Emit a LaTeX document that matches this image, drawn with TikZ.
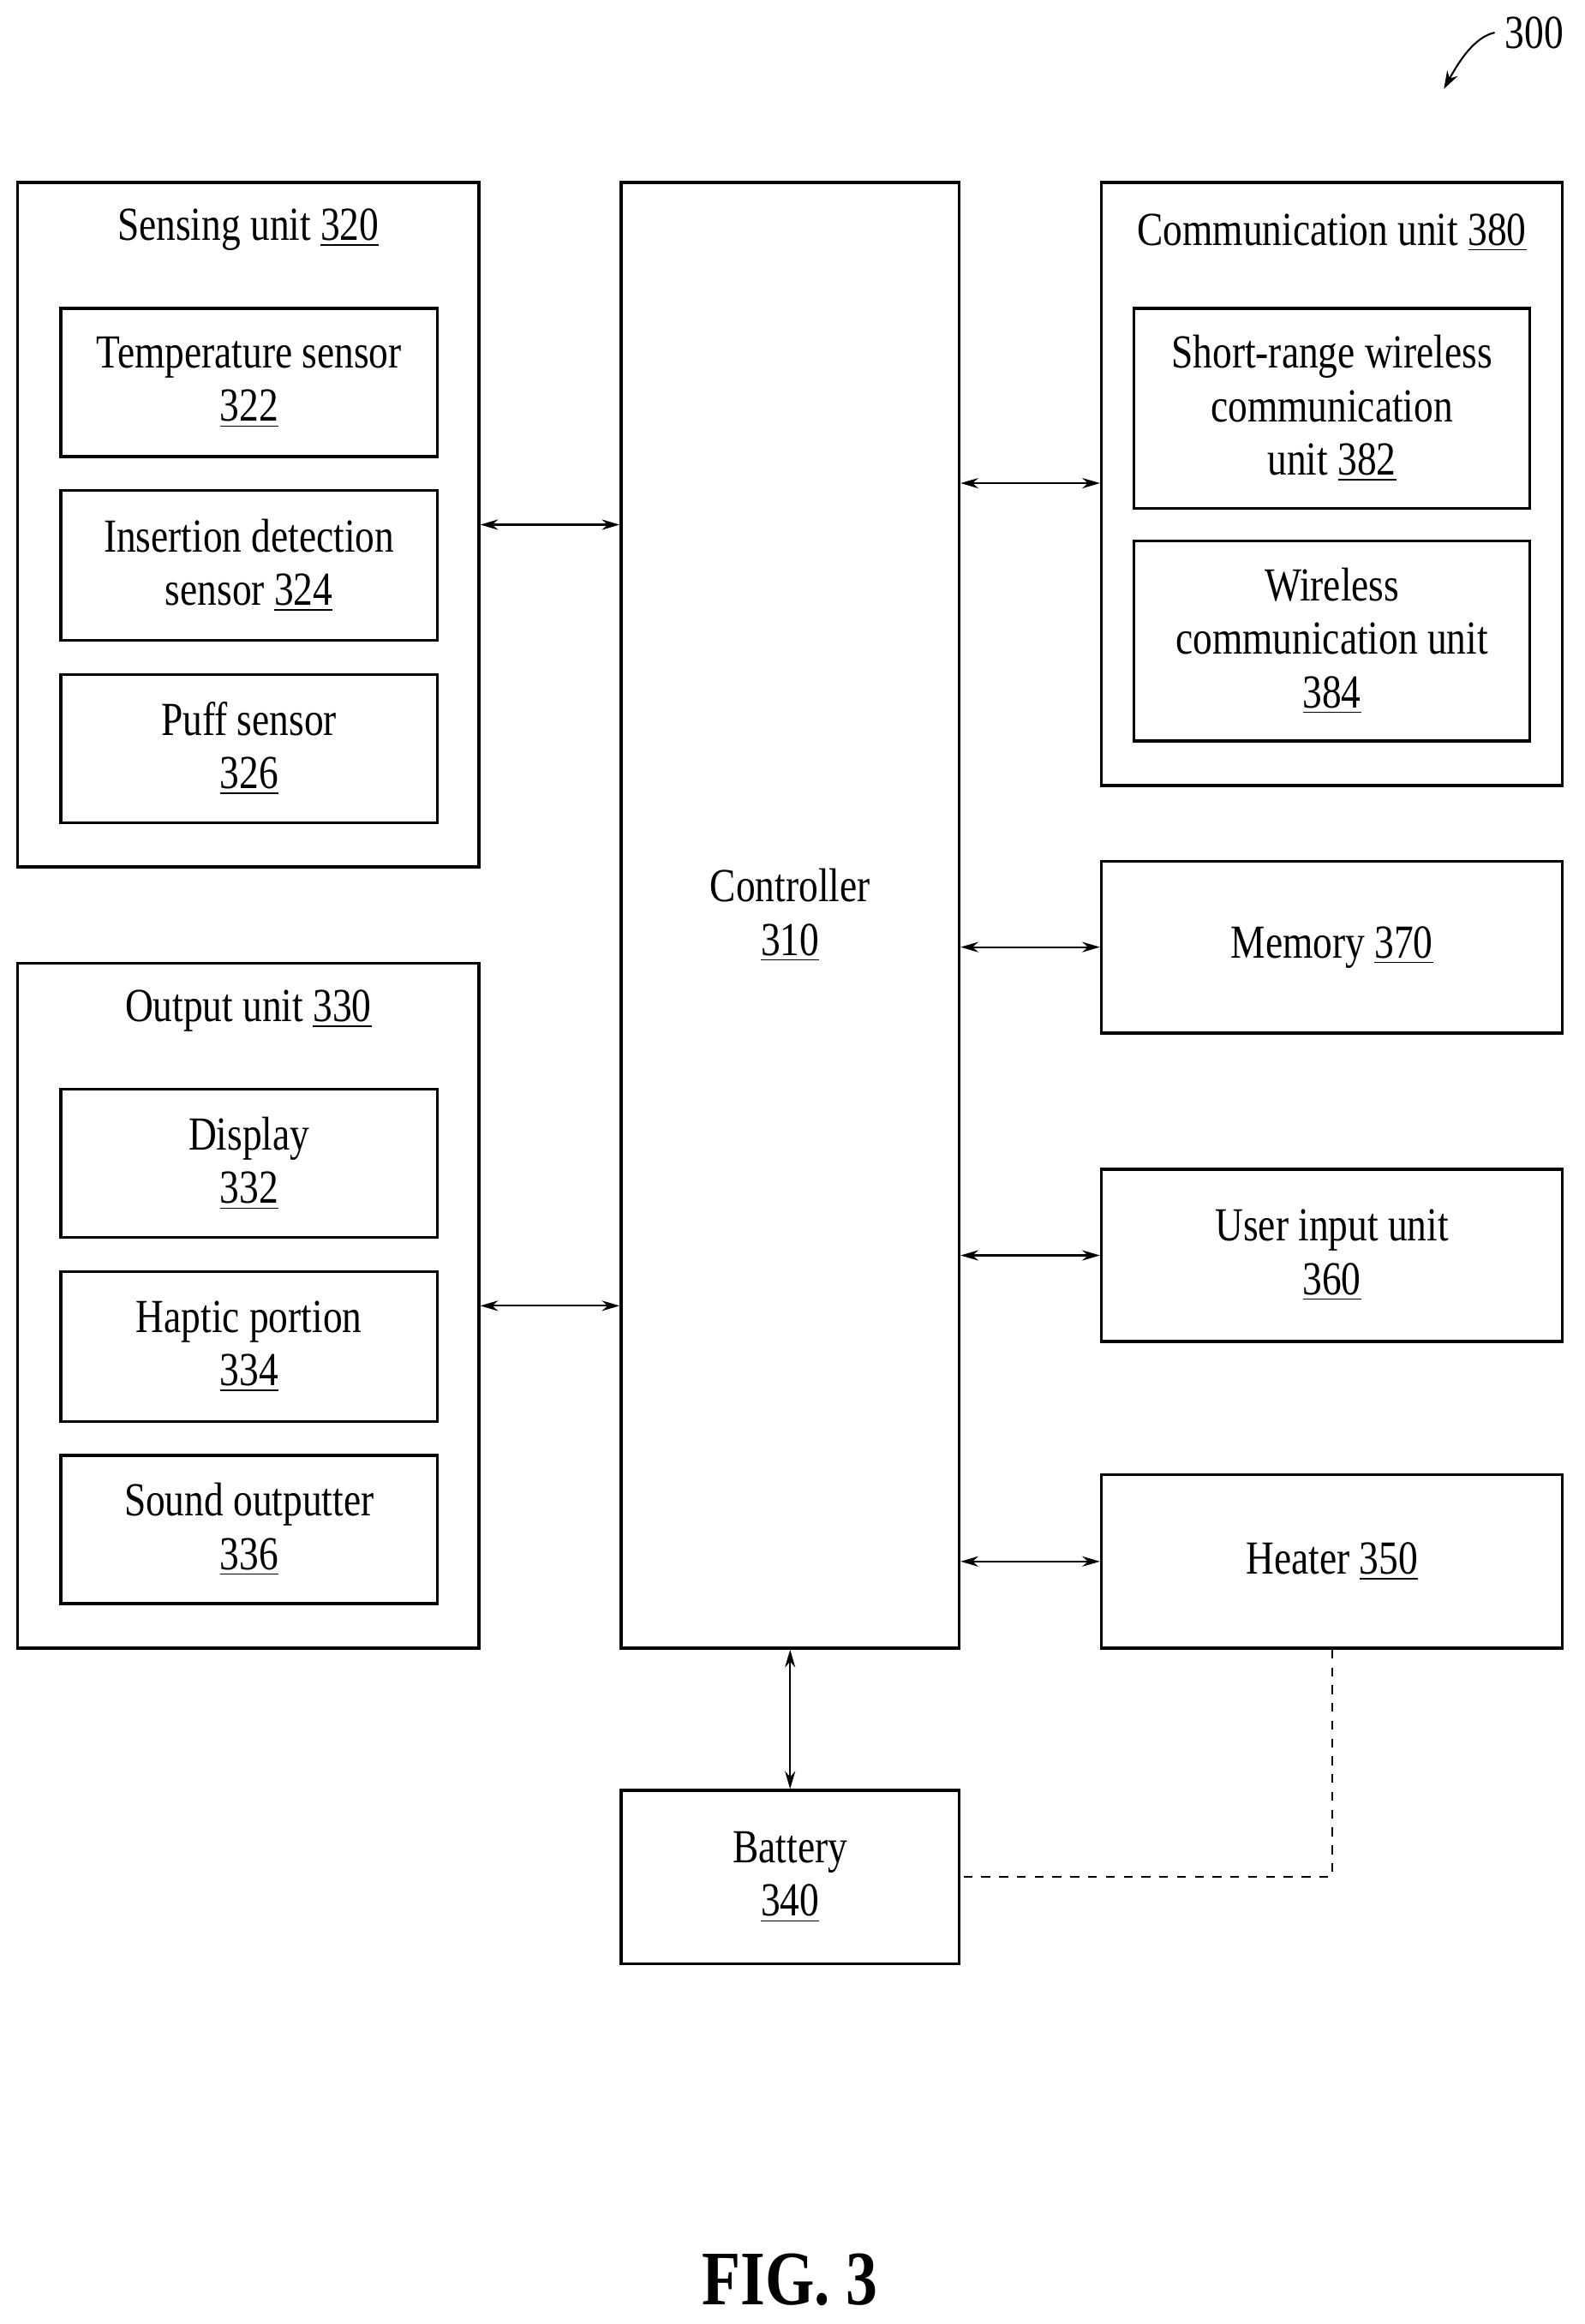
\documentclass[tikz,border=0pt]{standalone}
\usepackage{fontspec}
\setmainfont[FakeStretch=0.82]{Liberation Serif}
\usetikzlibrary{positioning,arrows.meta}
\newcommand{\refno}[1]{\underline{#1}}

\begin{document}
\begin{tikzpicture}[
    x=0.5pt, y=-0.5pt,
    font=\fontsize{16}{18}\selectfont,
    box/.style={rectangle, draw, line width=1pt, align=center, inner sep=0pt},
    arrow/.style={{Stealth[length=6pt,width=3.5pt]}-{Stealth[length=6pt,width=3.5pt]}, line width=0.6pt}
]
\useasboundingbox (0,0) rectangle (1069,1568);

% Sensing unit
\node[box, minimum width=311*0.5pt, minimum height=462*0.5pt] (sensing) at (167.5,354) {};
\node (sensing_title) at (167.5,155) {Sensing unit \refno{320}};
\node[box, minimum width=254*0.5pt, minimum height=100*0.5pt] (temp) at (168,258) {Temperature sensor\\\refno{322}};
\node[box, minimum width=254*0.5pt, minimum height=101*0.5pt] (insert) at (168,381.5) {Insertion detection\\sensor \refno{324}};
\node[box, minimum width=254*0.5pt, minimum height=100*0.5pt] (puff) at (168,505) {Puff sensor\\\refno{326}};

% Output unit
\node[box, minimum width=311*0.5pt, minimum height=462*0.5pt] (output) at (167.5,881) {};
\node (output_title) at (167.5,682) {Output unit \refno{330}};
\node[box, minimum width=254*0.5pt, minimum height=100*0.5pt] (display) at (168,785) {Display\\\refno{332}};
\node[box, minimum width=254*0.5pt, minimum height=101*0.5pt] (haptic) at (168,908.5) {Haptic portion\\\refno{334}};
\node[box, minimum width=254*0.5pt, minimum height=100*0.5pt] (sound) at (168,1032) {Sound outputter\\\refno{336}};

% Controller and battery
\node[box, minimum width=228*0.5pt, minimum height=989*0.5pt] (controller) at (533,617.5) {Controller\\\refno{310}};
\node[box, minimum width=228*0.5pt, minimum height=117*0.5pt] (battery) at (533,1266.5) {Battery\\\refno{340}};

% Communication unit
\node[box, minimum width=311*0.5pt, minimum height=407*0.5pt] (comm) at (898.5,326.5) {};
\node (comm_title) at (898.5,157) {Communication unit \refno{380}};
\node[box, minimum width=267*0.5pt, minimum height=135*0.5pt] (shortrange) at (898.5,275.5) {Short-range wireless\\communication\\unit \refno{382}};
\node[box, minimum width=267*0.5pt, minimum height=135*0.5pt] (wireless) at (898.5,432.5) {Wireless\\communication unit\\\refno{384}};

% Right column
\node[box, minimum width=311*0.5pt, minimum height=116*0.5pt] (memory) at (898.5,639) {Memory \refno{370}};
\node[box, minimum width=311*0.5pt, minimum height=116*0.5pt] (userinput) at (898.5,847) {User input unit\\\refno{360}};
\node[box, minimum width=311*0.5pt, minimum height=117*0.5pt] (heater) at (898.5,1053.5) {Heater \refno{350}};

% Arrows
\draw[arrow] (sensing.east |- 0,354) -- (controller.west |- 0,354);
\draw[arrow] (output.east |- 0,881) -- (controller.west |- 0,881);
\draw[arrow] (controller.east |- 0,326) -- (comm.west |- 0,326);
\draw[arrow] (controller.east |- memory) -- (memory.west);
\draw[arrow] (controller.east |- userinput) -- (userinput.west);
\draw[arrow] (controller.east |- heater) -- (heater.west);
\draw[arrow] (controller.south) -- (battery.north);
\draw[dashed, line width=0.6pt] (heater.south) |- (battery.east);

% Reference label
\node (ref) at (1035,22) {300};
\coordinate (ref_tip) at (974,60);
\draw[-{Stealth[length=6pt,width=4pt]}, line width=0.6pt] (ref.west) .. controls (995,25) and (985,40) .. (ref_tip);

% Figure caption
\node[font=\fontsize{26}{30}\selectfont\bfseries] (caption) at (533,1538) {FIG. 3};
\end{tikzpicture}
\end{document}
